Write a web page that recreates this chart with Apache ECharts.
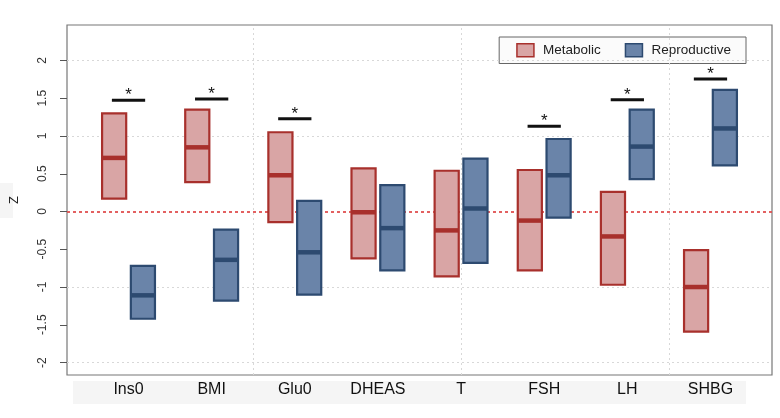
<!DOCTYPE html>
<html><head><meta charset="utf-8">
<script src="https://cdn.jsdelivr.net/npm/echarts@6/dist/echarts.min.js"></script>
<style>html,body{margin:0;padding:0;background:#fff}#c{width:780px;height:418px}</style>
</head><body><div id="c"></div>
<script>
var categories = ['Ins0','BMI','Glu0','DHEAS','T','FSH','LH','SHBG'];
var metLow  = [0.17, 0.39, -0.14, -0.62, -0.86, -0.78, -0.97, -1.59];
var metMed  = [0.71, 0.85, 0.48, -0.01, -0.25, -0.12, -0.33, -1.00];
var metHigh = [1.30, 1.35, 1.05, 0.57, 0.54, 0.55, 0.26, -0.51];
var repLow  = [-1.42, -1.18, -1.10, -0.78, -0.68, -0.08, 0.43, 0.61];
var repMed  = [-1.11, -0.64, -0.54, -0.22, 0.04, 0.48, 0.86, 1.10];
var repHigh = [-0.72, -0.24, 0.14, 0.35, 0.70, 0.96, 1.35, 1.61];
var sigLevel = [1.475, 1.49, 1.23, null, null, 1.13, 1.48, 1.755];
var yTicks = [-2, -1.5, -1, -0.5, 0, 0.5, 1, 1.5, 2];
var yGrid = [-2, -1, 1, 2];
var xGrid = [2.5, 5, 7.5];

var MET_FILL = '#d9a5a5', MET_LINE = '#a8302c';
var REP_FILL = '#6a84a9', REP_LINE = '#2d4a70';
var OFFSET = 0.173, BOXW = 0.29;

function boxData(lo, md, hi) {
  return categories.map(function (c, i) { return [i + 1, lo[i], md[i], hi[i]]; });
}
function makeBox(name, fill, line, off, lo, md, hi) {
  return {
    name: name, type: 'custom', z: 5,
    itemStyle: { color: fill, borderColor: line },
    data: boxData(lo, md, hi),
    encode: { x: 0, y: [1, 2, 3] },
    renderItem: function (params, api) {
      var x = api.value(0) + off;
      var pLo = api.coord([x, api.value(1)]);
      var pMd = api.coord([x, api.value(2)]);
      var pHi = api.coord([x, api.value(3)]);
      var w = api.size([BOXW, 0])[0];
      return { type: 'group', children: [
        { type: 'rect', shape: { x: pLo[0] - w / 2, y: pHi[1], width: w, height: pLo[1] - pHi[1] },
          style: { fill: fill, stroke: line, lineWidth: 2.2 } },
        { type: 'line', shape: { x1: pMd[0] - w / 2, y1: pMd[1], x2: pMd[0] + w / 2, y2: pMd[1] },
          style: { stroke: line, lineWidth: 4.5 } }
      ]};
    }
  };
}

var sigData = [];
sigLevel.forEach(function (v, i) { if (v !== null) sigData.push([i + 1, v]); });

var chart = echarts.init(document.getElementById('c'));
chart.setOption({
  animation: false,
  textStyle: { fontFamily: 'Liberation Sans, Arial, sans-serif' },
  graphic: [
    { type: 'rect', z: -10, shape: { x: 73, y: 381, width: 673, height: 23 }, style: { fill: '#f5f5f5' } },
    { type: 'rect', z: -10, shape: { x: 0, y: 183, width: 13, height: 35 }, style: { fill: '#f5f5f5' } }
  ],
  grid: { left: 67, top: 25, right: 8, bottom: 43, outerBoundsMode: 'none', containLabel: false,
    show: true, borderColor: '#777', borderWidth: 1.2, backgroundColor: 'transparent' },
  legend: {
    right: 34, top: 37, orient: 'horizontal',
    backgroundColor: '#fbfbfb', borderColor: '#666', borderWidth: 1,
    padding: [6, 15, 6, 17], itemGap: 24, itemWidth: 17, itemHeight: 13,
    textStyle: { fontSize: 13.5, color: '#222', padding: [0, 0, 0, 4] },
    data: [
      { name: 'Metabolic', icon: 'rect', itemStyle: { color: MET_FILL, borderColor: MET_LINE, borderWidth: 1.5 } },
      { name: 'Reproductive', icon: 'rect', itemStyle: { color: REP_FILL, borderColor: REP_LINE, borderWidth: 1.5 } }
    ]
  },
  xAxis: {
    type: 'value', min: 0.26, max: 8.74,
    axisLine: { show: false }, axisTick: { show: false }, splitLine: { show: false },
    axisLabel: { customValues: [1,2,3,4,5,6,7,8], fontSize: 16, color: '#111', margin: 7,
      formatter: function (v) { return categories[Math.round(v) - 1] || ''; } }
  },
  yAxis: {
    type: 'value', min: -2.165, max: 2.47,
    name: 'Z', nameLocation: 'middle', nameGap: 46, nameRotate: 90,
    nameTextStyle: { fontSize: 13, color: '#222' },
    axisLine: { show: false },
    axisTick: { show: true, customValues: yTicks, length: 7, lineStyle: { color: '#555' } },
    splitLine: { show: false },
    axisLabel: { customValues: yTicks, rotate: 90, fontSize: 12, color: '#333', margin: 18 }
  },
  series: [
    {
      name: 'grid', type: 'line', data: [], silent: true, z: 1,
      markLine: {
        silent: true, symbol: 'none', label: { show: false }, animation: false,
        lineStyle: { color: '#d8d8d8', type: [2, 3], width: 1 },
        data: yGrid.map(function (v) { return { yAxis: v }; })
          .concat(xGrid.map(function (v) { return { xAxis: v }; }))
          .concat([{ yAxis: 0, lineStyle: { color: '#e05050', type: [3, 3], width: 1.8 } }])
      }
    },
    makeBox('Metabolic', MET_FILL, MET_LINE, -OFFSET, metLow, metMed, metHigh),
    makeBox('Reproductive', REP_FILL, REP_LINE, OFFSET, repLow, repMed, repHigh),
    {
      name: 'sig', type: 'custom', z: 6, data: sigData,
      renderItem: function (params, api) {
        var a = api.coord([api.value(0) - 0.2, api.value(1)]);
        var b = api.coord([api.value(0) + 0.2, api.value(1)]);
        return { type: 'group', children: [
          { type: 'line', shape: { x1: a[0], y1: a[1], x2: b[0], y2: b[1] }, style: { stroke: '#111', lineWidth: 3 } },
          { type: 'text', x: (a[0] + b[0]) / 2, y: a[1] + 4,
            style: { text: '*', fill: '#111', fontSize: 17, align: 'center', verticalAlign: 'bottom', fontFamily: 'Liberation Sans, Arial, sans-serif' } }
        ]};
      }
    }
  ]
});
</script></body></html>
